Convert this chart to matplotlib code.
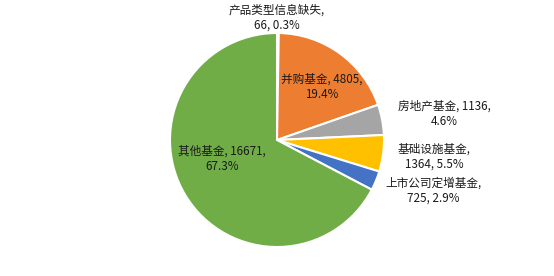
import matplotlib
matplotlib.use("Agg")
import matplotlib.pyplot as plt

plt.rcParams['font.family'] = ['Noto Sans CJK SC', 'DejaVu Sans']

categories = ['产品类型信息缺失', '并购基金', '房地产基金', '基础设施基金', '上市公司定增基金', '其他基金']
values = [66, 4805, 1136, 1364, 725, 16671]
percents = ['0.3%', '19.4%', '4.6%', '5.5%', '2.9%', '67.3%']
colors = ['#4472C4', '#ED7D31', '#A5A5A5', '#FFC000', '#4472C4', '#70AD47']

W, H = 554, 276
fig = plt.figure(figsize=(W / 100, H / 100), dpi=100)
ax = fig.add_axes([0, 0, 1, 1])

cx, cy, r = 277, H - 140, 107
ax.pie(values, colors=colors, startangle=90, counterclock=False,
       center=(cx, cy), radius=r, frame=True,
       wedgeprops=dict(edgecolor='white', linewidth=1.5))
ax.set_xlim(0, W)
ax.set_ylim(0, H)
ax.set_aspect('equal')
ax.axis('off')

labels = [
    f'{categories[0]},\n{values[0]}, {percents[0]}',
    f'{categories[1]}, {values[1]},\n{percents[1]}',
    f'{categories[2]}, {values[2]},\n{percents[2]}',
    f'{categories[3]},\n{values[3]}, {percents[3]}',
    f'{categories[4]},\n{values[4]}, {percents[4]}',
    f'{categories[5]}, {values[5]},\n{percents[5]}',
]
pos = [(277, 18), (322, 87), (444, 114), (434, 157), (433, 191), (222, 159)]
for lab, (px, py) in zip(labels, pos):
    ax.text(px, H - py, lab, ha='center', va='center', fontsize=8.4,
            color='#1a1a1a', linespacing=1.2)

fig.savefig('out.png', dpi=100)
